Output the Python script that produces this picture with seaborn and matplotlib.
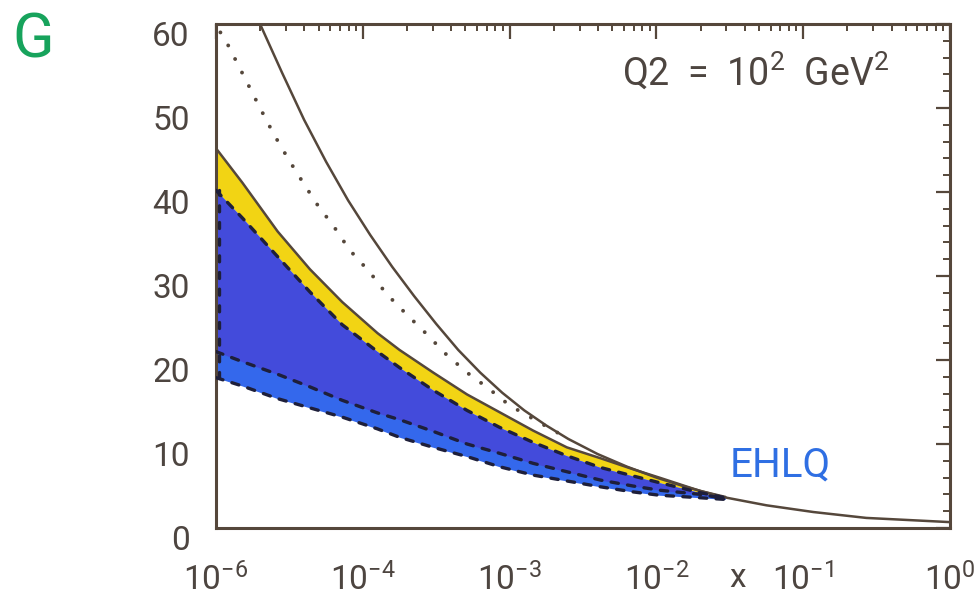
import numpy as np
import matplotlib
matplotlib.use("Agg")
import matplotlib.pyplot as plt
import matplotlib.transforms as mtransforms
import seaborn as sns
from matplotlib.ticker import FixedLocator, LogLocator, NullFormatter, MultipleLocator

# ---- data: curves given as log10(x) vs value ----
# upper solid curve
solid_logx = [-4.70, -4.55, -4.40, -4.25, -4.10, -3.95, -3.80, -3.65, -3.50, -3.35, -3.20,
              -3.05, -2.90, -2.75, -2.60, -2.40, -2.20, -2.00, -1.80, -1.55, -1.25, -0.93,
              -0.57, 0.0]
solid_y = [60.0, 54.2, 48.6, 43.6, 39.0, 34.9, 31.1, 27.6, 24.3, 21.2, 18.5,
           16.1, 14.0, 12.2, 10.6, 8.8, 7.3, 6.0, 4.9, 3.7, 2.7, 1.9,
           1.2, 0.7]

# dotted curve
dotted_logx = [-4.97, -4.93, -4.70, -4.61, -4.51, -4.41, -4.31, -4.19, -4.09, -3.95, -3.84,
               -3.70, -3.56, -3.44, -3.29, -3.15, -3.00, -2.83, -2.68, -2.61]
dotted_y = [59.0, 57.9, 50.0, 47.0, 44.0, 41.2, 38.5, 35.7, 33.1, 30.4, 27.9,
            25.4, 23.0, 20.8, 18.5, 16.7, 14.6, 12.9, 11.4, 10.9]

# shared grid for the shaded bands
band_logx = [-5.0, -4.82, -4.58, -4.36, -4.14, -3.90, -3.75, -3.52, -3.29, -3.07, -2.84,
             -2.61, -2.38, -2.16, -1.98, -1.70, -1.53]
yellow_top = [45.2, 41.1, 35.3, 30.8, 26.9, 23.2, 21.2, 18.5, 15.9, 13.8, 11.6,
              9.6, 8.3, 7.0, 6.0, 4.4, 3.7]
blue_top = [40.2, 36.9, 32.3, 28.1, 24.2, 21.0, 19.1, 16.4, 14.0, 12.0, 10.2,
            8.6, 7.2, 6.2, 5.4, 4.2, 3.6]
blue_mid = [21.0, 19.8, 18.3, 16.8, 15.2, 13.7, 12.9, 11.5, 10.0, 8.9, 7.7,
            6.7, 5.7, 5.0, 4.5, 4.0, 3.5]
blue_bottom = [17.9, 16.9, 15.4, 14.3, 13.2, 11.8, 10.8, 9.6, 8.5, 7.3, 6.3,
               5.6, 4.9, 4.3, 3.9, 3.6, 3.4]

x_tick_pos = [1e-5, 1e-4, 1e-3, 1e-2, 1e-1, 1e0]
x_tick_labels = ["10$^{-6}$", "10$^{-4}$", "10$^{-3}$", "10$^{-2}$", "10$^{-1}$", "10$^{0}$"]
y_ticks = [0, 10, 20, 30, 40, 50, 60]

INK = "#55473b"
TXT = "#4d4540"
DASH = "#1e1f3a"
YELLOW = "#f2d414"
BLUE = "#3468ec"
PURPLE = "#4a3fd4"

sns.set_style("white")
plt.rcParams["font.family"] = ["Roboto", "DejaVu Sans"]
plt.rcParams["mathtext.default"] = "regular"

fig = plt.figure(figsize=(9.77, 6.07), dpi=100)
ax = fig.add_axes([216 / 977, (607 - 528) / 607, 734 / 977, 504 / 607])

bx = 10.0 ** np.array(band_logx)
# shaded bands
ax.fill_between(bx, blue_top, yellow_top, color=YELLOW, lw=0, zorder=1)
ax.fill_between(bx, blue_bottom, blue_top, color=BLUE, lw=0, zorder=1)
ax.fill_between(bx, blue_mid, blue_top, color=PURPLE, alpha=0.7, lw=0, zorder=1)

# curves
sns.lineplot(x=10.0 ** np.array(solid_logx), y=solid_y, ax=ax, color=INK, lw=1.8,
             sort=False, estimator=None, zorder=3)
sns.lineplot(x=10.0 ** np.array(dotted_logx), y=dotted_y, ax=ax, color=INK, lw=2.8,
             linestyle=(0, (0.01, 3.9)), dash_capstyle="round", sort=False, estimator=None,
             zorder=3)
sns.lineplot(x=bx, y=yellow_top, ax=ax, color=INK, lw=1.8, sort=False, estimator=None, zorder=3)
for band in (blue_top, blue_mid, blue_bottom):
    sns.lineplot(x=bx, y=band, ax=ax, color=DASH, lw=2.4, linestyle=(0, (2.2, 2.8)),
                 dash_capstyle="round", sort=False, estimator=None, zorder=3)
# dashed left edge of the blue band
ax.plot([1.04e-5, 1.04e-5], [blue_bottom[0], blue_top[0]], color=DASH, lw=2.4,
        linestyle=(0, (1.8, 3.2)), dash_capstyle="round", zorder=3)

ax.set_xscale("log")
ax.set_xlim(1e-5, 1.0)
ax.set_ylim(0, 60)

for s in ax.spines.values():
    s.set_color(INK)
    s.set_linewidth(2.2)
    s.set_visible(True)

ax.xaxis.set_major_locator(FixedLocator(x_tick_pos))
ax.set_xticklabels(x_tick_labels)
ax.xaxis.set_minor_locator(LogLocator(base=10, subs=np.arange(2, 10)))
ax.xaxis.set_minor_formatter(NullFormatter())
ax.set_yticks(y_ticks)
ax.yaxis.set_minor_locator(MultipleLocator(2))

ax.tick_params(axis="both", which="both", direction="in", color=INK, top=True, right=True)
ax.tick_params(axis="x", which="major", length=11, width=1.6, pad=25, labelsize=24, labelcolor=TXT)
ax.tick_params(axis="x", which="minor", length=5, width=1.4)
ax.tick_params(axis="y", which="major", length=10, width=1.6, pad=19, labelsize=24, labelcolor=TXT)
ax.tick_params(axis="y", which="minor", length=5, width=1.4)
ax.set_xlabel("")
ax.set_ylabel("")

# the value labels sit a little below their ticks
shift = mtransforms.ScaledTranslation(0, -10 / 100, fig.dpi_scale_trans)
for lab in ax.get_yticklabels():
    lab.set_transform(lab.get_transform() + shift)

# annotations
fig.text(738 / 977, 1 - 578 / 607, "x", fontsize=24, color=TXT, ha="center", va="center")
ax.text(0.735, 0.905, "Q2  =  10$^2$  GeV$^2$", transform=ax.transAxes, fontsize=27,
        color=TXT, ha="center", va="center")
ax.text(0.768, 0.125, "EHLQ", transform=ax.transAxes, fontsize=29, color="#2f6fe3",
        ha="center", va="center")
fig.text(33 / 977, 1 - 40 / 607, "G", fontsize=44, color="#17a35c",
         ha="center", va="center")

fig.savefig("out.png", dpi=100, facecolor="white")
